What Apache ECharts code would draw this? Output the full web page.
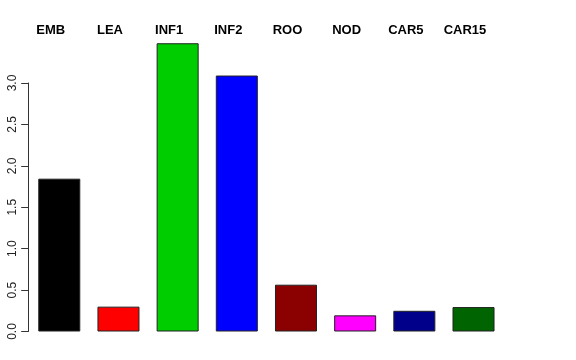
<!DOCTYPE html>
<html>
<head>
<meta charset="utf-8">
<script src="https://cdn.jsdelivr.net/npm/echarts@6/dist/echarts.min.js"></script>
<style>html,body{margin:0;padding:0;background:#fff;}#c{width:576px;height:360px;}</style>
</head>
<body>
<div id="c"></div>
<script>
var categories = ['EMB', 'LEA', 'INF1', 'INF2', 'ROO', 'NOD', 'CAR5', 'CAR15'];
var values = [1.845, 0.30, 3.48, 3.09, 0.565, 0.195, 0.25, 0.295];
var colors = ['#000000', '#ff0000', '#00cd00', '#0000ff', '#8b0000', '#ff00ff', '#00008b', '#006400'];
var yTicks = [0, 0.5, 1.0, 1.5, 2.0, 2.5, 3.0];

var chart = echarts.init(document.getElementById('c'), null, {renderer: 'canvas'});
chart.setOption({
  animation: false,
  backgroundColor: '#ffffff',
  grid: {left: 29.7, width: 473.4, top: 83, bottom: 28.5, containLabel: false},
  xAxis: {
    type: 'category',
    data: categories,
    position: 'top',
    axisLine: {show: false},
    axisTick: {show: false},
    axisLabel: {
      margin: 46,
      padding: [0, 17, 0, 0],
      color: '#000',
      fontFamily: 'Liberation Sans, Arial, sans-serif',
      fontWeight: 'bold',
      fontSize: 13
    }
  },
  yAxis: {
    type: 'value',
    min: yTicks[0],
    max: yTicks[yTicks.length - 1],
    interval: 0.5,
    offset: 1.5,
    splitLine: {show: false},
    axisLine: {show: true, lineStyle: {color: '#333', width: 1}},
    axisTick: {show: true, length: 7, lineStyle: {color: '#333'}},
    axisLabel: {
      rotate: 90,
      margin: 10,
      color: '#222',
      fontFamily: 'Liberation Sans, Arial, sans-serif',
      fontSize: 12,
      formatter: function (v) { return v.toFixed(1); }
    }
  },
  series: [{
    type: 'bar',
    clip: false,
    barCategoryGap: '29%',
    data: values.map(function (v, i) {
      return {value: v, itemStyle: {color: colors[i]}};
    }),
    itemStyle: {borderColor: '#222', borderWidth: 1}
  }]
});
</script>
</body>
</html>
